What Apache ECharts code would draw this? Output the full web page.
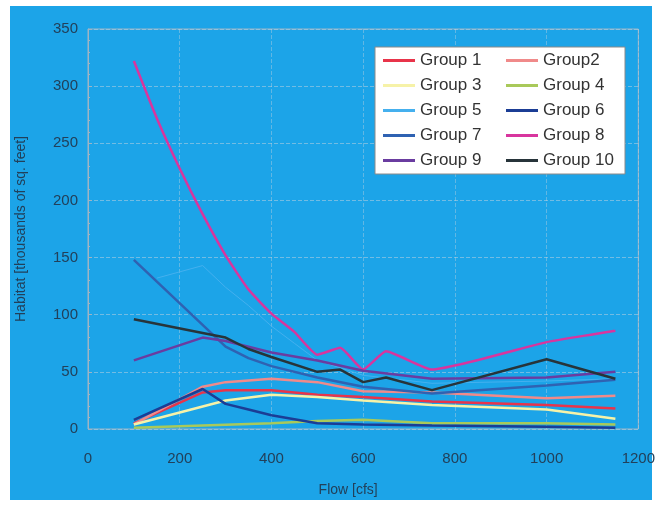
<!DOCTYPE html>
<html>
<head>
<meta charset="utf-8">
<script src="https://cdn.jsdelivr.net/npm/echarts@6/dist/echarts.min.js"></script>
<style>
html, body { margin: 0; padding: 0; background: #fff; }
#bg { position: absolute; left: 10px; top: 6px; width: 642px; height: 494px; background: #1ca4e8; }
#main { position: absolute; left: 0; top: 0; width: 658px; height: 506px; }
</style>
</head>
<body>
<div id="bg"></div>
<div id="main"></div>
<script>
var flows = [100, 150, 200, 250, 300, 350, 400, 450, 500, 550, 600, 650, 750, 1000, 1150];

var group1 = [5, null, null, 32, 34, null, 34, null, 30, null, 28, null, 24, 21, 18];
var group2 = [4, null, null, 37, 41, null, 44, null, 41, null, 33, null, 32, 27, 29];
var group3 = [4, null, null, null, 25, null, 30, null, 28, null, 25, null, 21, 17, 9];
var group4 = [1, null, null, null, null, null, 5, null, 7, null, 8, null, 5, 5, 4];
var group5 = [null, 132, null, 143, 124, 108, 90, 75, 60, null, 47, null, 40, 42, 44];
var group6 = [8, null, null, 35, 22, 17, 12, null, 5, null, 4, null, 3, 2, 1];
var group7 = [148, null, null, null, 72, 62, 55, null, 45, null, 37, null, 31, 38, 43];
var group8 = [322, 272, 228, 188, 152, 122, 101, 85, 65, 71, 52, 68, 52, 76, 86];
var group9 = [60, null, null, 80, 77, null, 67, null, 60, null, 51, null, 44, 45, 50];
var group10 = [96, null, null, 84, 80, 70, 63, null, 50, 52, 41, 45, 34, 61, 44];

var names = ['Group 1', 'Group2', 'Group 3', 'Group 4', 'Group 5', 'Group 6', 'Group 7', 'Group 8', 'Group 9', 'Group 10'];
var values = [group1, group2, group3, group4, group5, group6, group7, group8, group9, group10];
var colors = ['#e8344a', '#f08a8a', '#f6f2a8', '#a9c95a', '#45b0ee', '#1b3d95', '#2f62b2', '#d8359e', '#6a3ca0', '#27343a'];
var widths = [2.5, 2.5, 2.5, 2.5, 1, 2.5, 2.5, 2.5, 2.5, 2.5];

var myChart = echarts.init(document.getElementById('main'));

var series = [];
for (var i = 0; i < names.length; i++) {
	var pts = [];
	for (var j = 0; j < flows.length; j++) {
		pts.push([flows[j], values[i][j]]);
	}
	series.push({
		name: names[i],
		type: 'line',
		data: pts,
		connectNulls: true,
		showSymbol: false,
		symbol: 'none',
		smooth: names[i] == 'Group 8' ? 0.15 : false,
		lineStyle: { width: widths[i], color: colors[i] },
		itemStyle: { color: colors[i] },
		z: 2 + i
	});
}

var labelColor = '#22405a';

var option = {
	color: colors,
	animation: false,
	textStyle: { fontFamily: 'Liberation Sans' },
	grid: {
		left: 88,
		right: 18,
		top: 29,
		bottom: 77,
		show: true,
		borderColor: '#9fb4c4',
		borderWidth: 1
	},
	legend: {
		data: names,
		left: 375,
		top: 47,
		width: 240,
		padding: [5, 4, 5, 8],
		backgroundColor: '#ffffff',
		borderColor: '#8a8a8a',
		borderWidth: 1,
		icon: 'rect',
		itemWidth: 32,
		itemHeight: 3,
		itemGap: 8,
		textStyle: { fontSize: 17, color: '#333', width: 78, lineHeight: 17, fontFamily: 'Liberation Sans' }
	},
	xAxis: {
		type: 'value',
		min: 0,
		max: 1200,
		interval: 200,
		name: 'Flow [cfs]',
		nameLocation: 'middle',
		nameGap: 54,
		nameTextStyle: { fontSize: 14, color: labelColor, padding: [0, 30, 0, 0] },
		axisLine: { show: false },
		axisTick: { show: false },
		axisLabel: { fontSize: 15, color: labelColor, margin: 22, formatter: function (v) { return String(v); } },
		splitLine: { show: true, lineStyle: { color: 'rgba(200,212,222,0.4)', type: 'dashed' } }
	},
	yAxis: {
		type: 'value',
		min: 0,
		max: 350,
		interval: 50,
		name: 'Habitat [thousands of sq. feet]',
		nameLocation: 'middle',
		nameGap: 60,
		nameTextStyle: { fontSize: 14, color: labelColor },
		axisLine: { show: true, lineStyle: { color: '#9fb4c4' } },
		axisTick: { show: true, inside: true, length: 4, lineStyle: { color: '#9fb4c4' } },
		minorTick: { show: true, splitNumber: 5, length: 2, lineStyle: { color: '#9fb4c4' } },
		axisLabel: { fontSize: 15, color: labelColor, margin: 10 },
		splitLine: { show: true, lineStyle: { color: 'rgba(200,212,222,0.5)', type: 'dashed' } }
	},
	series: series
};

myChart.setOption(option);
</script>
</body>
</html>
